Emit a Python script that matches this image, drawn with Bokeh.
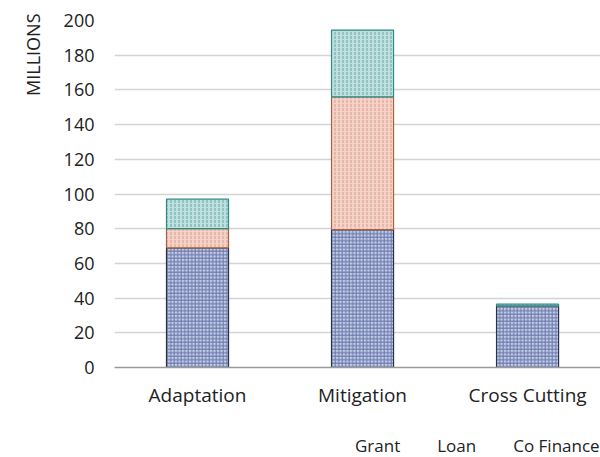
from bokeh.plotting import figure
from bokeh.models import ColumnDataSource, Range1d, Legend, LegendItem, Title, FixedTicker
from bokeh.layouts import column
from bokeh.embed import file_html
from bokeh.resources import INLINE

categories = ["Adaptation", "Mitigation", "Cross Cutting"]
grant = [69, 79.5, 35.5]
loan = [11, 76.5, 0]
cofinance = [17, 38.5, 1]
series_names = ["Grant", "Loan", "Co Finance"]
y_ticks = [0, 20, 40, 60, 80, 100, 120, 140, 160, 180, 200]

FONT = "Open Sans"
xs = list(range(len(categories)))
l_top = [g + l for g, l in zip(grant, loan)]
c_top = [a + c for a, c in zip(l_top, cofinance)]

src = ColumnDataSource(dict(x=xs, g0=[0] * 3, g1=grant, l1=l_top, c1=c_top))

styles = [
    dict(fill_color="#c6cde3", line_color="#2b3148", hatch_pattern="cross",
         hatch_color="#6676ad", hatch_scale=3.5),
    dict(fill_color="#f3d2c7", line_color="#a8643e", hatch_pattern="vertical_dash",
         hatch_color="#de9c88", hatch_scale=4),
    dict(fill_color="#bfe0df", line_color="#2f8a86", hatch_pattern="vertical_dash",
         hatch_color="#5ea9a5", hatch_scale=4),
]

p = figure(frame_width=486, frame_height=347, output_backend="svg", toolbar_location=None,
           x_range=Range1d(-0.503, 2.442), y_range=Range1d(0, 200),
           min_border_left=114, min_border_top=20, min_border_right=0,
           min_border_bottom=58)
p.outline_line_color = None
p.background_fill_color = "white"

p.vbar(x="x", bottom="g0", top="g1", width=0.376, source=src, line_width=1.2,
       hatch_weight=1, **styles[0])
p.vbar(x="x", bottom="g1", top="l1", width=0.376, source=src, line_width=1.2,
       hatch_weight=1, **styles[1])
p.vbar(x="x", bottom="l1", top="c1", width=0.376, source=src, line_width=1.2,
       hatch_weight=1, **styles[2])

p.xaxis.ticker = FixedTicker(ticks=xs)
p.xaxis.major_label_overrides = {i: c for i, c in enumerate(categories)}
p.xaxis.major_tick_line_color = None
p.xaxis.minor_tick_line_color = None
p.xaxis.axis_line_color = "#9a9a9a"
p.xaxis.axis_line_width = 1.5
p.xaxis.major_label_text_font = FONT
p.xaxis.major_label_text_font_size = "19px"
p.xaxis.major_label_text_color = "#222222"
p.xaxis.major_label_standoff = 8

p.yaxis.ticker = FixedTicker(ticks=y_ticks)
p.yaxis.major_tick_line_color = None
p.yaxis.minor_tick_line_color = None
p.yaxis.axis_line_color = None
p.yaxis.major_label_text_font = FONT
p.yaxis.major_label_text_font_size = "18px"
p.yaxis.major_label_text_color = "#222222"
p.yaxis.major_label_standoff = 14

p.xgrid.grid_line_color = None
p.ygrid.grid_line_color = "#d2d4d8"
p.ygrid.grid_line_width = 1.5

t = Title(text="MILLIONS", align="right", text_font=FONT, text_font_size="18px",
          text_font_style="normal", text_color="#222222", standoff=32, offset=-7)
p.add_layout(t, "left")

# legend strip below the chart
p2 = figure(width=600, height=32, output_backend="svg", toolbar_location=None,
            x_range=Range1d(0, 1), y_range=Range1d(0, 1),
            x_axis_location=None, y_axis_location=None, min_border=0)
p2.outline_line_color = None
p2.grid.visible = False
items = []
for name, st in zip(series_names, styles):
    r = p2.vbar(x=[], top=[], width=0.1, line_width=1.2, hatch_weight=1, **st)
    items.append(LegendItem(label=name, renderers=[r]))
legend = Legend(items=items, orientation="horizontal", location=(224, 0),
                label_text_font=FONT, label_text_font_size="17px", label_text_color="#222222",
                glyph_width=12, glyph_height=12, spacing=20, label_standoff=5,
                border_line_color=None, background_fill_alpha=0, padding=2, margin=0)
p2.add_layout(legend, "center")

layout = column(p, p2, spacing=0)
open("out.html", "w").write(file_html(layout, INLINE))
